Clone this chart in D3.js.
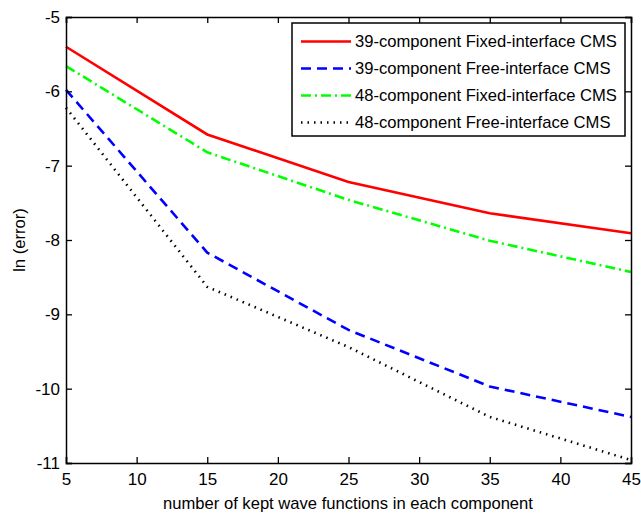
<!DOCTYPE html>
<html>
<head>
<meta charset="utf-8">
<script src="https://cdn.jsdelivr.net/npm/d3@7"></script>
<style>
  body { margin: 0; background: #fff; }
  text { font-family: "Liberation Sans", Arial, sans-serif; fill: #000; }
</style>
</head>
<body>
<div id="canvas"></div>
<script>
const kept = [5, 15, 25, 35, 45];
const fixed39 = [-5.40, -6.58, -7.22, -7.64, -7.91];
const free39 = [-5.98, -8.17, -9.21, -9.97, -10.38];
const fixed48 = [-5.66, -6.82, -7.46, -8.01, -8.43];
const free48 = [-6.22, -8.63, -9.44, -10.38, -10.96];
const seriesNames = ['39-component Fixed-interface CMS', '39-component Free-interface CMS', '48-component Fixed-interface CMS', '48-component Free-interface CMS'];
const xTicks = [5, 10, 15, 20, 25, 30, 35, 40, 45];
const yTicks = [-5, -6, -7, -8, -9, -10, -11];

const w = 641;
const h = 513;
const plotLeft = 66, plotRight = 631, plotTop = 17, plotBottom = 463;

const series = [
  { name: seriesNames[0], values: fixed39, color: '#ff0000', dash: null },
  { name: seriesNames[1], values: free39, color: '#0000ff', dash: '10,6' },
  { name: seriesNames[2], values: fixed48, color: '#00ff00', dash: '10,4,2,4' },
  { name: seriesNames[3], values: free48, color: '#000000', dash: '1.5,5' }
];

const xScale = d3.scaleLinear().domain([5, 45]).range([plotLeft, plotRight]);
const yScale = d3.scaleLinear().domain([-11, -5]).range([plotBottom, plotTop]);

const svg = d3.select('#canvas')
  .append('svg')
  .attr('width', w)
  .attr('height', h);

const line = d3.line()
  .x((d, i) => xScale(kept[i]))
  .y(d => yScale(d));

svg.selectAll('path.series')
  .data(series)
  .enter()
  .append('path')
  .attr('class', 'series')
  .attr('d', d => line(d.values))
  .attr('fill', 'none')
  .attr('stroke', d => d.color)
  .attr('stroke-width', 2.6)
  .attr('stroke-dasharray', d => d.dash);

// axes, ticks inward on all four sides
const xAxis = d3.axisBottom(xScale).tickValues(xTicks).tickSize(-6).tickPadding(10).tickFormat(d => d);
const yAxis = d3.axisLeft(yScale).tickValues(yTicks).tickSize(-6).tickPadding(10).tickFormat(d => d);

svg.append('g')
  .attr('id', 'x-axis')
  .attr('transform', 'translate(0,' + plotBottom + ')')
  .call(xAxis);

svg.append('g')
  .attr('id', 'y-axis')
  .attr('transform', 'translate(' + plotLeft + ',0)')
  .call(yAxis);

svg.append('g')
  .attr('transform', 'translate(0,' + plotTop + ')')
  .call(d3.axisTop(xScale).tickValues(xTicks).tickSize(-6).tickFormat(''));

svg.append('g')
  .attr('transform', 'translate(' + plotRight + ',0)')
  .call(d3.axisRight(yScale).tickValues(yTicks).tickSize(-6).tickFormat(''));

svg.selectAll('.domain').attr('stroke', '#000').attr('stroke-width', 1.5);
svg.selectAll('.tick line').attr('stroke', '#000').attr('stroke-width', 1.3);
svg.selectAll('.tick text').style('font-size', '17px').style('font-family', '"Liberation Sans", Arial, sans-serif');
svg.select('#y-axis').selectAll('.tick text').attr('x', -6);

svg.append('text')
  .attr('transform', 'translate(' + 348 + ',' + 509 + ')')
  .style('text-anchor', 'middle')
  .style('font-size', '16.6px')
  .text('number of kept wave functions in each component');

svg.append('text')
  .attr('transform', 'rotate(-90)')
  .attr('x', -(plotTop + plotBottom) / 2)
  .attr('y', 25)
  .style('text-anchor', 'middle')
  .style('font-size', '16.6px')
  .text('ln (error)');

// legend
const legend = svg.append('g');
legend.append('rect')
  .attr('x', 292)
  .attr('y', 23)
  .attr('width', 333)
  .attr('height', 113)
  .attr('fill', '#fff')
  .attr('stroke', '#000')
  .attr('stroke-width', 1.5);

const rowY = d3.scalePoint().domain(seriesNames).range([41.5, 122.5]);

const rows = legend.selectAll('g.row')
  .data(series)
  .enter()
  .append('g')
  .attr('class', 'row')
  .attr('transform', d => 'translate(0,' + rowY(d.name) + ')');

rows.append('line')
  .attr('x1', 301)
  .attr('x2', 351)
  .attr('stroke', d => d.color)
  .attr('stroke-width', 2.6)
  .attr('stroke-dasharray', d => d.dash);

rows.append('text')
  .attr('x', 355)
  .attr('dy', '0.35em')
  .style('font-size', '16.6px')
  .text(d => d.name);
</script>
</body>
</html>
